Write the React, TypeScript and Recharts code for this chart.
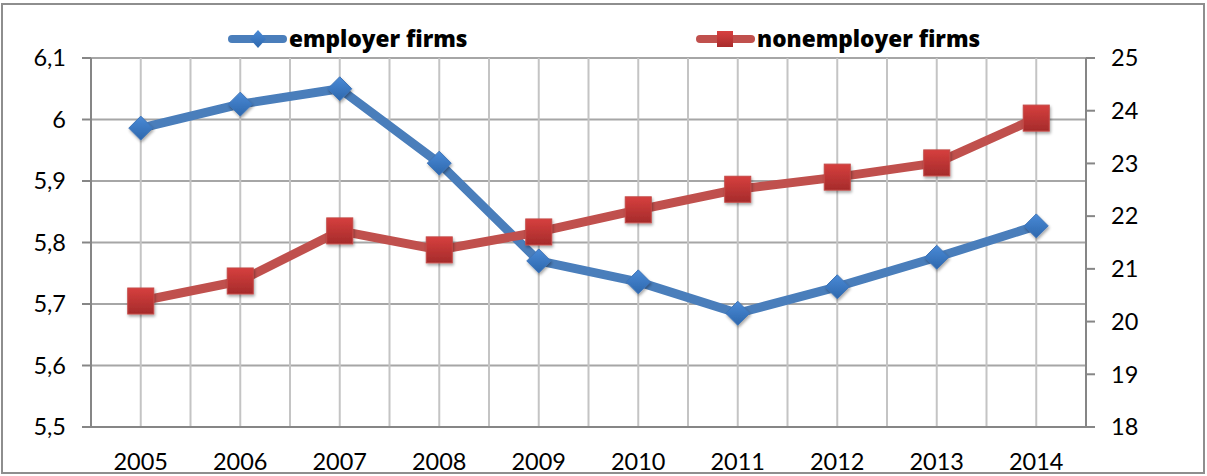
import { LineChart, Line, XAxis, YAxis, CartesianGrid } from 'recharts';

const years = ['2005', '2006', '2007', '2008', '2009', '2010', '2011', '2012', '2013', '2014'];
const employerFirms = [5.986, 6.025, 6.05, 5.929, 5.77, 5.736, 5.685, 5.728, 5.776, 5.827];
const nonemployerFirms = [20.39, 20.77, 21.72, 21.36, 21.7, 22.12, 22.51, 22.74, 23.01, 23.86];
const leftTicks = [5.5, 5.6, 5.7, 5.8, 5.9, 6.0, 6.1];
const rightTicks = [18, 19, 20, 21, 22, 23, 24, 25];

const data = years.map((year, i) => ({
  year,
  employer: employerFirms[i],
  nonemployer: nonemployerFirms[i],
}));

const FONT = 'Lato, "Open Sans", sans-serif';
const LEGEND_FONT = '"Open Sans", Lato, sans-serif';
const AXIS = '#868686';

const fmtComma = (v: number) => String(Number(v.toFixed(1))).replace('.', ',');

function Diamond(props: any) {
  const { cx, cy } = props;
  if (cx == null || cy == null) return null;
  const r = 12;
  return (
    <path
      d={`M${cx},${cy - r}L${cx + r},${cy}L${cx},${cy + r}L${cx - r},${cy}Z`}
      fill="url(#blueMarker)"
      stroke="#3f75b8"
      strokeWidth={1}
      filter="url(#markerShadow)"
    />
  );
}

function Square(props: any) {
  const { cx, cy } = props;
  if (cx == null || cy == null) return null;
  const s = 13;
  return (
    <rect
      x={cx - s}
      y={cy - s}
      width={s * 2}
      height={s * 2}
      fill="url(#redMarker)"
      stroke="#c44a47"
      strokeWidth={1}
      filter="url(#markerShadow)"
    />
  );
}

function LegendItems() {
  return (
    <svg width={1207} height={476} style={{ position: 'absolute', left: 0, top: 0, pointerEvents: 'none' }}>
      <defs>
        <linearGradient id="blueLeg" x1="0" y1="0" x2="0" y2="1">
          <stop offset="0%" stopColor="#4a8ad6" />
          <stop offset="100%" stopColor="#2d67ad" />
        </linearGradient>
        <linearGradient id="redLeg" x1="0" y1="0" x2="0" y2="1">
          <stop offset="0%" stopColor="#d84040" />
          <stop offset="100%" stopColor="#a82c2c" />
        </linearGradient>
      </defs>
      <line x1={232} y1={39} x2={283} y2={39} stroke="#4a7ebb" strokeWidth={8} strokeLinecap="round" />
      <path d="M258,30L266,39L258,48L250,39Z" fill="url(#blueLeg)" />
      <text x={289} y={47} fontFamily={LEGEND_FONT} fontWeight={800} fontSize={22.6} fill="#000">employer firms</text>
      <line x1={700} y1={39} x2={751} y2={39} stroke="#c0504d" strokeWidth={8} strokeLinecap="round" />
      <rect x={717} y={31} width={16} height={16} fill="url(#redLeg)" />
      <text x={757} y={47} fontFamily={LEGEND_FONT} fontWeight={800} fontSize={22.6} fill="#000">nonemployer firms</text>
    </svg>
  );
}

export default function App() {
  return (
    <div style={{ position: 'relative', width: 1207, height: 476, background: '#fff', fontFamily: FONT }}>
      <style>{'body{margin:0}'}</style>
      <LineChart width={1207} height={476} data={data} margin={{ top: 58, right: 0, bottom: 0, left: 0 }}>
        <defs>
          <linearGradient id="blueMarker" x1="0" y1="0" x2="0" y2="1">
            <stop offset="0%" stopColor="#4a8ad6" />
            <stop offset="100%" stopColor="#2d67ad" />
          </linearGradient>
          <linearGradient id="redMarker" x1="0" y1="0" x2="0" y2="1">
            <stop offset="0%" stopColor="#d63f3e" />
            <stop offset="100%" stopColor="#a52b2b" />
          </linearGradient>
          <filter id="markerShadow" x="-50%" y="-50%" width="200%" height="200%">
            <feDropShadow dx={1} dy={2} stdDeviation={1.5} floodColor="#000" floodOpacity={0.35} />
          </filter>
        </defs>
        <CartesianGrid
          yAxisId="left"
          vertical={false}
          stroke="#a6a6a6"
          strokeWidth={2}
        />
        <CartesianGrid
          yAxisId="left"
          horizontal={false}
          stroke="#c4c4c4"
          strokeWidth={2}
          verticalCoordinatesGenerator={({ offset }: any) =>
            Array.from({ length: years.length * 2 + 1 }, (_, k) => offset.left + (offset.width * k) / (years.length * 2))
          }
        />
        <XAxis
          dataKey="year"
          scale="band"
          height={49}
          tickLine={false}
          axisLine={{ stroke: AXIS, strokeWidth: 2 }}
          tick={{ fill: '#000', fontSize: 23.5, fontFamily: FONT }}
          tickMargin={20}
          interval={0}
        />
        <YAxis
          yAxisId="left"
          domain={[5.5, 6.1]}
          ticks={leftTicks}
          width={91}
          tickSize={9}
          tickMargin={16}
          tickFormatter={fmtComma}
          axisLine={{ stroke: AXIS, strokeWidth: 2 }}
          tickLine={{ stroke: AXIS, strokeWidth: 2 }}
          tick={{ fill: '#000', fontSize: 23.5, fontFamily: FONT }}
          allowDataOverflow
        />
        <YAxis
          yAxisId="right"
          orientation="right"
          domain={[18, 25]}
          ticks={rightTicks}
          width={121}
          tickSize={9}
          tickMargin={16}
          axisLine={{ stroke: AXIS, strokeWidth: 2 }}
          tickLine={{ stroke: AXIS, strokeWidth: 2 }}
          tick={{ fill: '#000', fontSize: 23.5, fontFamily: FONT }}
          allowDataOverflow
        />
        <Line
          yAxisId="left"
          dataKey="employer"
          stroke="#4a7ebb"
          strokeWidth={9}
          strokeLinejoin="round"
          dot={<Diamond />}
          activeDot={false}
          isAnimationActive={false}
        />
        <Line
          yAxisId="right"
          dataKey="nonemployer"
          stroke="#c0504d"
          strokeWidth={9}
          strokeLinejoin="round"
          dot={<Square />}
          activeDot={false}
          isAnimationActive={false}
        />
      </LineChart>
      <LegendItems />
      <div
        style={{
          position: 'absolute',
          left: 1,
          top: 3,
          width: 1204,
          height: 471,
          border: '2px solid #8e8e8e',
          boxSizing: 'border-box',
          pointerEvents: 'none',
        }}
      />
    </div>
  );
}
